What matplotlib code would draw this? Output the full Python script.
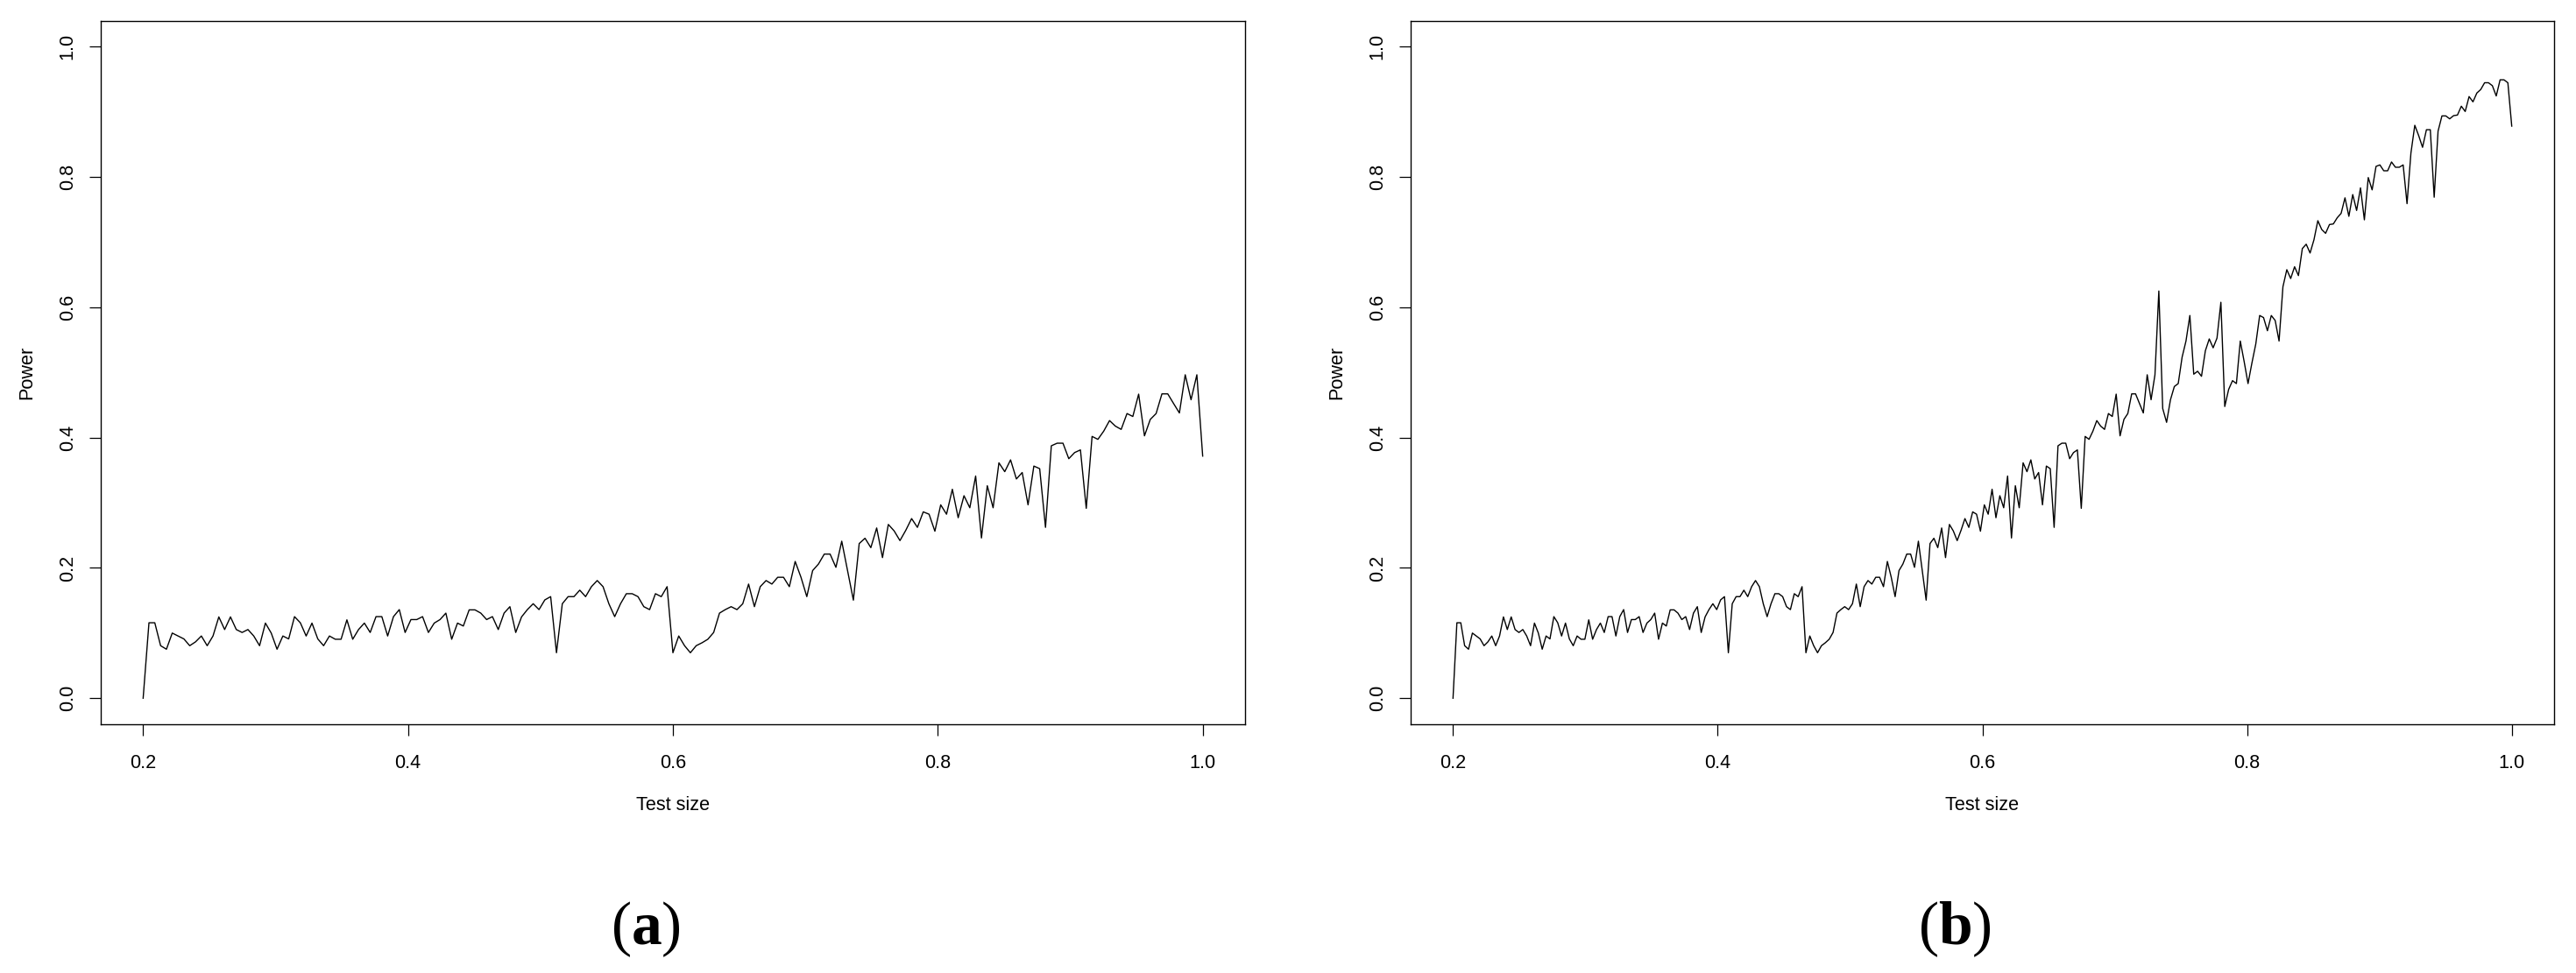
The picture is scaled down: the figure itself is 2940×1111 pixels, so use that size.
import numpy as np
import matplotlib
matplotlib.use("Agg")
import matplotlib.pyplot as plt

# --- DATA ---
# panel (a): 183 evenly spaced test sizes from 0.2 to 1.0
power_a = [
    0.0, 0.1158, 0.1158, 0.0806, 0.0752, 0.1000, 0.0955, 0.0910, 0.0806, 0.0865,
    0.0955, 0.0806, 0.0955, 0.1248, 0.1054, 0.1248, 0.1054, 0.1009, 0.1054, 0.0955,
    0.0806, 0.1153, 0.1000, 0.0752, 0.0955, 0.0910, 0.1252, 0.1158, 0.0955, 0.1153,
    0.0910, 0.0806, 0.0955, 0.0905, 0.0905, 0.1203, 0.0905, 0.1054, 0.1153, 0.1009,
    0.1252, 0.1252, 0.0955, 0.1252, 0.1360, 0.1009, 0.1207, 0.1207, 0.1252, 0.1009,
    0.1153, 0.1207, 0.1306, 0.0905, 0.1153, 0.1108, 0.1356, 0.1356, 0.1306, 0.1207,
    0.1252, 0.1054, 0.1306, 0.1405, 0.1009, 0.1248, 0.1360, 0.1450, 0.1360, 0.1509,
    0.1559, 0.0698, 0.1450, 0.1559, 0.1559, 0.1658, 0.1559, 0.1712, 0.1806, 0.1712,
    0.1450, 0.1252, 0.1450, 0.1604, 0.1604, 0.1559, 0.1405, 0.1360, 0.1604, 0.1559,
    0.1712, 0.0698, 0.0955, 0.0806, 0.0698, 0.0806, 0.0851, 0.0905, 0.1009, 0.1306,
    0.1360, 0.1405, 0.1360, 0.1450, 0.1752, 0.1405, 0.1712, 0.1806, 0.1752, 0.1856,
    0.1856, 0.1712, 0.2099, 0.1856, 0.1559, 0.1959, 0.2059, 0.2212, 0.2212, 0.2009,
    0.2410, 0.1959, 0.1505, 0.2374, 0.2455, 0.2311, 0.2613, 0.2158, 0.2667, 0.2568,
    0.2419, 0.2577, 0.2757, 0.2622, 0.2860, 0.2824, 0.2563, 0.2968, 0.2824, 0.3207,
    0.2770, 0.3108, 0.2923, 0.3410, 0.2459, 0.3261, 0.2923, 0.3613, 0.3477, 0.3658,
    0.3365, 0.3464, 0.2968, 0.3563, 0.3523, 0.2622, 0.3874, 0.3914, 0.3914, 0.3676,
    0.3770, 0.3811, 0.2914, 0.4018, 0.3973, 0.4099, 0.4261, 0.4176, 0.4126, 0.4369,
    0.4324, 0.4667, 0.4027, 0.4279, 0.4369, 0.4671, 0.4671, 0.4523, 0.4378, 0.4964,
    0.4581, 0.4964, 0.3716,
]

# panel (b): 274 evenly spaced test sizes; the first 182 values follow panel (a)
power_b_tail = [
    0.6250, 0.4446, 0.4234, 0.4581, 0.4784, 0.4829, 0.5234, 0.5482, 0.5874, 0.4973,
    0.5018, 0.4941, 0.5333, 0.5514, 0.5378, 0.5527, 0.6077, 0.4477, 0.4739, 0.4874,
    0.4829, 0.5482, 0.5167, 0.4829, 0.5144, 0.5437, 0.5874, 0.5842, 0.5640, 0.5874,
    0.5797, 0.5482, 0.6315, 0.6577, 0.6441, 0.6622, 0.6486, 0.6901, 0.6968, 0.6833,
    0.7036, 0.7329, 0.7194, 0.7135, 0.7270, 0.7279, 0.7374, 0.7441, 0.7680, 0.7396,
    0.7730, 0.7486, 0.7833, 0.7342, 0.7991, 0.7802, 0.8162, 0.8185, 0.8095, 0.8095,
    0.8230, 0.8149, 0.8149, 0.8185, 0.7590, 0.8365, 0.8793, 0.8635, 0.8455, 0.8725,
    0.8725, 0.7689, 0.8703, 0.8937, 0.8937, 0.8892, 0.8941, 0.8950, 0.9086, 0.9005,
    0.9234, 0.9153, 0.9288, 0.9342, 0.9446, 0.9446, 0.9401, 0.9243, 0.9491, 0.9491,
    0.9446, 0.8780,
]
power_b = power_a[:182] + power_b_tail

size_a = np.linspace(0.2, 1.0, len(power_a))
size_b = np.linspace(0.2, 1.0, len(power_b))

x_ticks = [0.2, 0.4, 0.6, 0.8, 1.0]
y_ticks = [0.0, 0.2, 0.4, 0.6, 0.8, 1.0]
panel_labels = [r"$(\mathbf{a})$", r"$(\mathbf{b})$"]

# --- FIGURE ---
W, H = 2940, 1111
DPI = 200
plt.rcParams["mathtext.fontset"] = "custom"
plt.rcParams["mathtext.rm"] = "Liberation Serif"
plt.rcParams["mathtext.bf"] = "Liberation Serif:bold"
fig = plt.figure(figsize=(W / DPI, H / DPI), dpi=DPI)

TICK_FONT = "Liberation Sans"


def r_style_panel(ax, x, y):
    """Mimic a base-R plot(type='l') panel."""
    ax.plot(x, y, color="black", linewidth=0.5)
    ax.set_xlim(0.168, 1.032)
    ax.set_ylim(-0.04, 1.04)
    ax.set_xticks(x_ticks)
    ax.set_xticklabels([f"{t:.1f}" for t in x_ticks], fontname=TICK_FONT, fontsize=7.8)
    ax.set_yticks(y_ticks)
    ax.set_yticklabels([f"{t:.1f}" for t in y_ticks], fontname=TICK_FONT, fontsize=7.8,
                       rotation=90, va="center", ha="right")
    ax.tick_params(direction="out", length=4.6, width=0.45, color="black")
    ax.tick_params(axis="x", pad=7.5)
    ax.tick_params(axis="y", pad=5.2)
    for s in ax.spines.values():
        s.set_linewidth(0.5)
        s.set_color("black")
    ax.set_xlabel("Test size", fontname=TICK_FONT, fontsize=7.8, labelpad=10)
    ax.set_ylabel("Power", fontname=TICK_FONT, fontsize=7.8, labelpad=9.3)


ax_a = fig.add_axes([115 / W, 1 - 827 / H, 1306 / W, 803.5 / H])
ax_b = fig.add_axes([1610 / W, 1 - 827 / H, 1305 / W, 803.5 / H])
r_style_panel(ax_a, size_a, power_a)
r_style_panel(ax_b, size_b, power_b)

fig.text(737 / W, 1 - 1061 / H, panel_labels[0], fontsize=25, ha="center", va="center")
fig.text(2231 / W, 1 - 1061 / H, panel_labels[1], fontsize=25, ha="center", va="center")

fig.savefig("out.png", dpi=DPI, facecolor="white")
